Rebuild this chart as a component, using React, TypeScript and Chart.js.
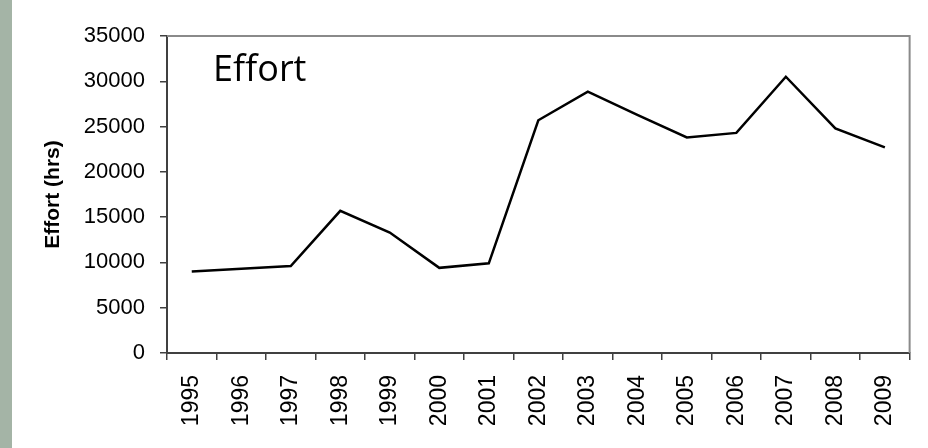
import React, { useEffect, useRef } from "react";
import { Chart, registerables } from "chart.js";

Chart.register(...registerables);

const years = ["1995", "1996", "1997", "1998", "1999", "2000", "2001", "2002", "2003", "2004", "2005", "2006", "2007", "2008", "2009"];
const effort = [9000, 9300, 9600, 15700, 13300, 9400, 9900, 25700, 28850, 26300, 23800, 24300, 30500, 24800, 22700];
const yTicks = [0, 5000, 10000, 15000, 20000, 25000, 30000, 35000];
const chartLabel = "Effort";
const yTitle = "Effort (hrs)";

const decor = {
  id: "decor",
  beforeDraw(chart: any) {
    const ctx = chart.ctx;
    ctx.save();
    ctx.fillStyle = "#ffffff";
    ctx.fillRect(0, 0, chart.width, chart.height);
    ctx.fillStyle = "#a4b4a6";
    ctx.fillRect(0, 0, 12, chart.height);
    ctx.restore();
  },
  afterDraw(chart: any) {
    const ctx = chart.ctx;
    const a = chart.chartArea;
    ctx.save();
    ctx.strokeStyle = "#8a8a8a";
    ctx.lineWidth = 2;
    ctx.beginPath();
    ctx.moveTo(a.left, a.top);
    ctx.lineTo(a.right, a.top);
    ctx.lineTo(a.right, a.bottom);
    ctx.stroke();
    ctx.fillStyle = "#000";
    ctx.font = "36px 'Open Sans'";
    ctx.textBaseline = "alphabetic";
    ctx.textAlign = "left";
    ctx.fillText(chartLabel, a.left + 46, a.top + 45);
    ctx.restore();
  },
};

export default function App() {
  const ref = useRef<HTMLCanvasElement>(null);
  useEffect(() => {
    document.body.style.margin = "0";
    const chart = new Chart(ref.current!, {
      type: "line",
      data: {
        labels: years,
        datasets: [
          {
            data: effort,
            borderColor: "#000",
            borderWidth: 2.5,
            pointRadius: 0,
            tension: 0,
            fill: false,
          },
        ],
      },
      options: {
        responsive: false,
        animation: false,
        layout: { padding: { left: 12, top: 36, right: 16, bottom: 0 } },
        plugins: { legend: { display: false }, tooltip: { enabled: false } },
        scales: {
          x: {
            offset: true,
            grid: { offset: true, drawOnChartArea: false, drawTicks: true, tickLength: 7, color: "#404040", lineWidth: 1.5 },
            border: { color: "#404040", width: 2 },
            ticks: {
              color: "#000",
              font: { family: "'Liberation Sans', Arial", size: 23 },
              maxRotation: 90,
              minRotation: 90,
              padding: 15,
              autoSkip: false,
            },
            afterFit(scale: any) {
              scale.height = 448 - 353;
            },
          },
          y: {
            min: 0,
            max: 35000,
            afterBuildTicks(scale: any) {
              scale.ticks = yTicks.map((v) => ({ value: v }));
            },
            grid: { drawOnChartArea: false, drawTicks: true, tickLength: 7, color: "#404040", lineWidth: 1.5 },
            border: { color: "#404040", width: 2 },
            ticks: {
              color: "#000",
              font: { family: "'Liberation Sans', Arial", size: 22 },
              padding: 15,
              callback: (v: any) => String(v),
            },
            title: {
              display: true,
              text: yTitle,
              color: "#000",
              font: { family: "'Liberation Sans', Arial", size: 21, weight: "bold" },
              padding: { top: 29, bottom: 0 },
            },
            afterFit(scale: any) {
              scale.width = 167 - 12;
            },
          },
        },
      },
      plugins: [decor],
    });
    return () => chart.destroy();
  }, []);
  return (
    <div style={{ width: 928, height: 448 }}>
      <canvas ref={ref} width={928} height={448} style={{ display: "block" }} />
    </div>
  );
}
